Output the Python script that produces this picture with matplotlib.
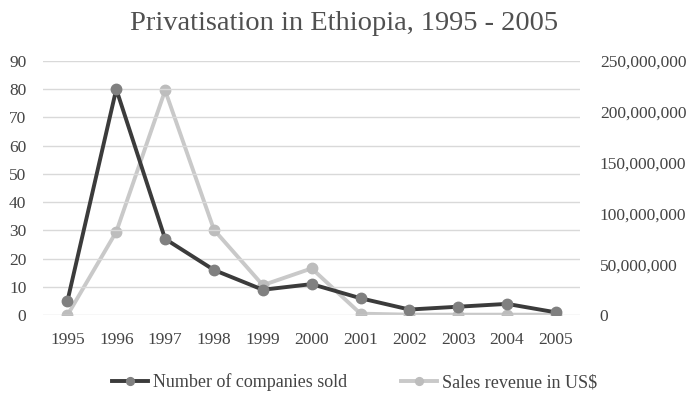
import matplotlib
matplotlib.use("Agg")
import matplotlib.pyplot as plt
from matplotlib.ticker import FuncFormatter
import numpy as np

plt.rcParams.update({"font.family": ["Liberation Serif", "DejaVu Serif"],
                     "font.size": 12.5})

years = ["1995", "1996", "1997", "1998", "1999", "2000",
         "2001", "2002", "2003", "2004", "2005"]
companies_sold = [5, 80, 27, 16, 9, 11, 6, 2, 3, 4, 1]
sales_revenue = [0, 82e6, 221e6, 84e6, 29.5e6, 46e6,
                 1.5e6, 0.5e6, 0.5e6, 0.5e6, 0.5e6]

DARK, DARK_M = "#3b3b3b", "#808080"
LIGHT, LIGHT_M = "#c9c9c9", "#bdbdbd"
TXT = "#444444"

fig = plt.figure(figsize=(6.88, 3.93), dpi=100)
ax = fig.add_axes([0.0625, 0.198, 0.781, 0.647])
ax2 = ax.twinx()

x = np.arange(len(years))
ax.plot(x, companies_sold, color=DARK, lw=2.8, marker="o", ms=7.5,
        mfc=DARK_M, mec=DARK_M, zorder=3, label="Number of companies sold")
ax2.plot(x, sales_revenue, color=LIGHT, lw=2.8, marker="o", ms=7.5,
         mfc=LIGHT_M, mec=LIGHT_M, zorder=2, label="Sales revenue in US$")

ax.set_zorder(ax2.get_zorder() + 1)
ax.patch.set_visible(False)

ax.set_xlim(-0.5, len(years) - 0.5)
ax.set_ylim(0, 90)
ax.set_yticks(range(0, 91, 10))
ax2.set_ylim(0, 250e6)
ax2.set_yticks(np.arange(0, 250e6 + 1, 50e6))
ax2.yaxis.set_major_formatter(FuncFormatter(lambda v, p: f"{v:,.0f}"))
ax.set_xticks(x)
ax.set_xticklabels(years)

ax.grid(axis="y", color="#d9d9d9", lw=1.0)
ax.set_axisbelow(True)
for a in (ax, ax2):
    for s in a.spines.values():
        s.set_visible(False)
    a.tick_params(length=0, colors=TXT, labelsize=12.5)
ax.tick_params(axis="y", pad=12)
ax.tick_params(axis="x", pad=12)
ax2.tick_params(axis="y", pad=14)

fig.suptitle("Privatisation in Ethiopia, 1995 - 2005", y=0.972,
             fontsize=20.5, color="#505050")

h1, l1 = ax.get_legend_handles_labels()
h2, l2 = ax2.get_legend_handles_labels()
fig.legend(h1 + h2, l1 + l2, loc="center", bbox_to_anchor=(0.515, 0.027),
           ncol=2, frameon=False, fontsize=13, labelcolor=TXT,
           columnspacing=3.0, handlelength=2.0, handletextpad=0.25,
           markerscale=0.75)

fig.savefig("out.png", dpi=100)
